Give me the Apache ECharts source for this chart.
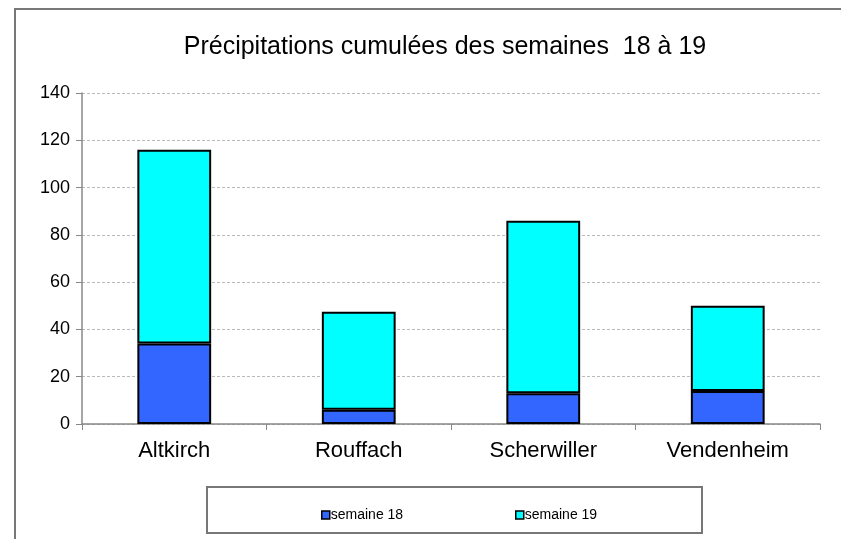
<!DOCTYPE html>
<html>
<head>
<meta charset="utf-8">
<script src="https://cdn.jsdelivr.net/npm/echarts@6/dist/echarts.min.js"></script>
<style>
    html, body { margin: 0; padding: 0; background: #fff; }
    #main { width: 841px; height: 539px; }
</style>
</head>
<body>
<div id="main"></div>
<script>
    var stations = ['Altkirch', 'Rouffach', 'Scherwiller', 'Vendenheim'];
    var semaine18 = [34, 6, 13, 14];
    var semaine19 = [82, 41.5, 73, 36];
    var yTicks = [0, 20, 40, 60, 80, 100, 120, 140];

    var myChart = echarts.init(document.getElementById('main'));
    var font = 'Liberation Sans, Arial, sans-serif';

    var option = {
        backgroundColor: '#fff',
        animation: false,
        title: {
            text: 'Précipitations cumulées des semaines  18 à 19',
            left: 440,
            textAlign: 'center',
            top: 30,
            textStyle: { fontFamily: font, fontSize: 25, fontWeight: 'normal', color: '#000' }
        },
        graphic: [
            {
                type: 'rect',
                shape: { x: 15, y: 9, width: 900, height: 600 },
                style: { fill: 'none', stroke: '#777', lineWidth: 2 },
                silent: true
            },
            {
                type: 'rect',
                shape: { x: 207, y: 487, width: 495, height: 46 },
                style: { fill: 'none', stroke: '#777', lineWidth: 2 },
                silent: true
            }
        ],
        legend: [
            {
                data: ['semaine 18'],
                left: 316, top: 503,
                itemWidth: 8, itemHeight: 8, itemGap: 4,
                icon: 'rect',
                itemStyle: { borderColor: '#000', borderWidth: 1.5 },
                textStyle: { fontFamily: font, fontSize: 14, color: '#000', padding: [0, 0, 0, -4] }
            },
            {
                data: ['semaine 19'],
                left: 510, top: 503,
                itemWidth: 8, itemHeight: 8, itemGap: 4,
                icon: 'rect',
                itemStyle: { borderColor: '#000', borderWidth: 1.5 },
                textStyle: { fontFamily: font, fontSize: 14, color: '#000', padding: [0, 0, 0, -4] }
            }
        ],
        grid: { left: 82, right: 21, top: 93, bottom: 115 },
        xAxis: {
            type: 'category',
            data: stations,
            axisLine: { lineStyle: { color: '#888', width: 1.5 } },
            axisTick: { show: true, length: 6, lineStyle: { color: '#888' } },
            axisLabel: { fontFamily: font, fontSize: 22, color: '#000', margin: 16 }
        },
        yAxis: {
            type: 'value',
            min: 0, max: 140, interval: 20,
            axisLine: { show: true, lineStyle: { color: '#888', width: 1.5 } },
            axisTick: { show: true, length: 6, lineStyle: { color: '#888' } },
            axisLabel: {
                fontFamily: font, fontSize: 18, color: '#000', margin: 12,
                formatter: function (v) { return yTicks.indexOf(v) >= 0 ? String(v) : ''; }
            },
            splitLine: { show: true, lineStyle: { color: '#bbb', type: [3, 2], width: 1 } }
        },
        series: [
            {
                name: 'semaine 18',
                type: 'bar',
                stack: 'total',
                data: semaine18,
                barWidth: '40%',
                itemStyle: { color: '#3366FF', borderColor: '#000', borderWidth: 2 }
            },
            {
                name: 'semaine 19',
                type: 'bar',
                stack: 'total',
                data: semaine19,
                barWidth: '40%',
                itemStyle: { color: '#00FFFF', borderColor: '#000', borderWidth: 2 }
            }
        ]
    };

    myChart.setOption(option);
</script>
</body>
</html>
